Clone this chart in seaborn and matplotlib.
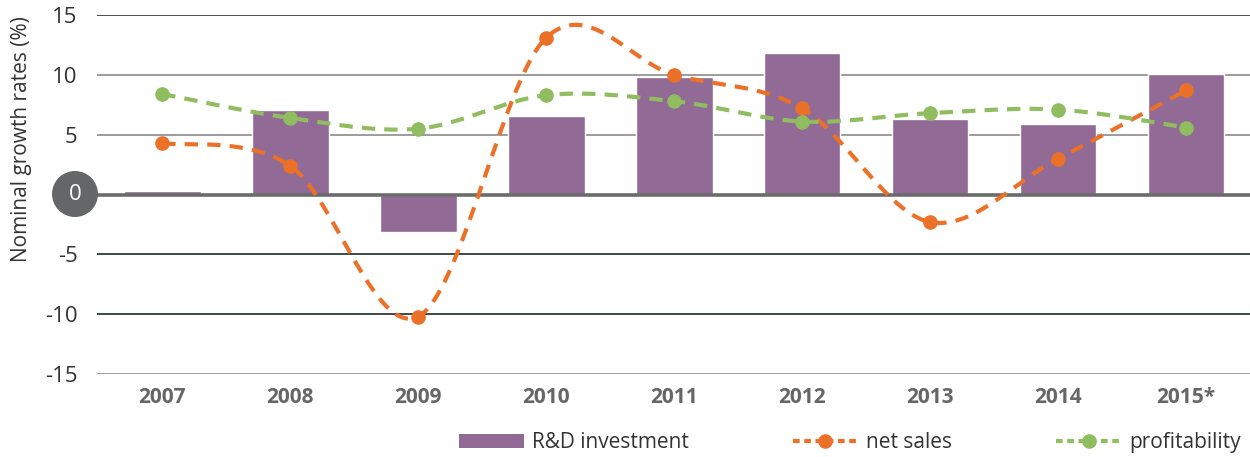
import numpy as np
import pandas as pd
import matplotlib
matplotlib.use("Agg")
import matplotlib.pyplot as plt
from matplotlib.lines import Line2D
from matplotlib.patches import Patch, Ellipse
import seaborn as sns

# data
years = ["2007", "2008", "2009", "2010", "2011", "2012", "2013", "2014", "2015*"]
rd_investment = [0.3, 7.1, -3.1, 6.6, 9.8, 11.8, 6.3, 5.9, 10.1]
net_sales = [4.3, 2.4, -10.2, 13.1, 10.0, 7.2, -2.3, 3.0, 8.7]
profitability = [8.4, 6.4, 5.5, 8.3, 7.8, 6.1, 6.8, 7.1, 5.6]

purple = "#916a96"
orange = "#eb7128"
green = "#8fbd5f"

sns.set_theme(style="white")
plt.rcParams["font.family"] = ["Open Sans", "DejaVu Sans"]


def smooth(y, n=40):
    # excel style smoothed line (bezier through the points)
    y = np.asarray(y, dtype=float)
    x = np.arange(len(y), dtype=float)
    pts = np.column_stack([x, y])
    out = []
    for i in range(len(pts) - 1):
        p0 = pts[max(i - 1, 0)]
        p1 = pts[i]
        p2 = pts[i + 1]
        p3 = pts[min(i + 2, len(pts) - 1)]
        c1 = p1 + (p2 - p0) / 6
        c2 = p2 - (p3 - p1) / 6
        t = np.linspace(0, 1, n)[:, None]
        seg = ((1 - t) ** 3) * p1 + 3 * ((1 - t) ** 2) * t * c1 + 3 * (1 - t) * t ** 2 * c2 + t ** 3 * p2
        out.append(seg if i == 0 else seg[1:])
    out = np.vstack(out)
    return out[:, 0], out[:, 1]


df = pd.DataFrame({"year": years, "rd": rd_investment})

fig = plt.figure(figsize=(12.5, 4.57), dpi=100)
ax = fig.add_axes([0.0776, 0.1816, 0.9224, 0.7855])

# gridlines
grid_cols = {15: "#3a4242", 10: "#949494", 5: "#949494", -5: "#2f3a3a", -10: "#2f3a3a", -15: "#949494"}
for v, c in grid_cols.items():
    ax.axhline(v, color=c, lw=1.3, zorder=0)

sns.barplot(data=df, x="year", y="rd", color=purple, width=0.6, saturation=1, ax=ax, zorder=2)

ax.axhline(0, color="#6b6b6b", lw=2.6, zorder=3)

xs = np.arange(len(years))
for vals, col in [(net_sales, orange), (profitability, green)]:
    sx, sy = smooth(vals)
    ax.plot(sx, sy, color=col, lw=3, ls=(0, (3.2, 2.2)), zorder=4)
    ax.plot(xs, vals, "o", color=col, ms=9.5, zorder=5)

ax.set_xlim(-0.51, 8.5)
ax.set_ylim(-15, 15)
ax.set_yticks([15, 10, 5, -5, -10, -15])
ax.set_yticklabels(["15", "10", "5", "-5", "-10", "-15"])
ax.tick_params(axis="y", length=0, pad=14, labelsize=16, labelcolor="#333333")
ax.tick_params(axis="x", length=0, pad=9, labelsize=15, labelcolor="#666666")
for lab in ax.get_xticklabels():
    lab.set_fontweight("bold")
for s in ax.spines.values():
    s.set_visible(False)
ax.set_xlabel("")
ax.set_ylabel("Nominal growth rates (%)", fontsize=15, color="#333333")
ax.yaxis.set_label_coords(-0.056, 0.655)

# zero label in a grey disc
fig.patches.append(Ellipse((75 / 1250, 1 - 194 / 457), 46 / 1250, 46 / 457, transform=fig.transFigure,
                           facecolor="#646767", edgecolor="none"))
fig.text(75 / 1250, 1 - 194 / 457, "0", color="white", fontsize=16, ha="center", va="center")

handles = [
    Patch(facecolor=purple, edgecolor="none"),
    Line2D([], [], color=orange, lw=3, ls=(0, (1.6, 1.1)), marker="o", ms=9.5),
    Line2D([], [], color=green, lw=3, ls=(0, (1.6, 1.1)), marker="o", ms=9.5),
]
fig.legend(handles, ["R&D investment", "net sales", "profitability"], ncol=3, frameon=False,
           loc="center", bbox_to_anchor=(0.68, 0.031), fontsize=15, labelcolor="#333333",
           columnspacing=5.0, handlelength=3.1, handletextpad=0.4, handleheight=0.6)

fig.savefig("out.png", dpi=100)
